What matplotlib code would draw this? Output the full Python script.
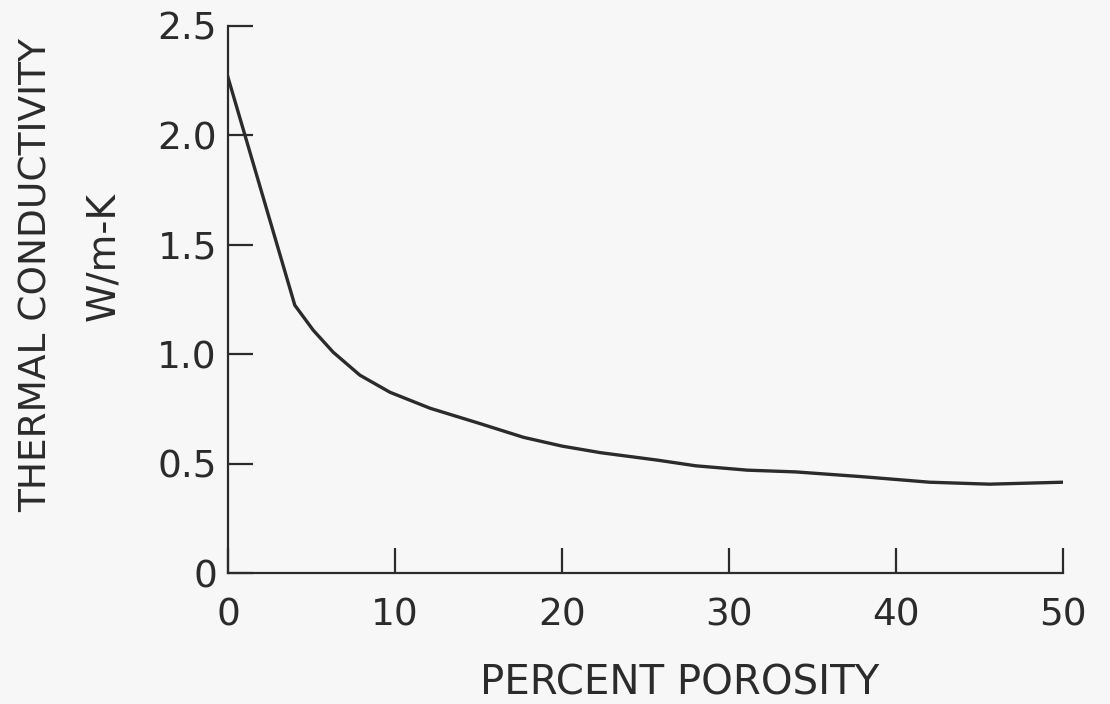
import matplotlib
matplotlib.use("Agg")
import matplotlib.pyplot as plt

# thermal conductivity vs porosity
porosity = [0, 4.0, 5.1, 6.3, 7.9, 9.7, 12.1, 15, 17.7, 20, 22.3, 25.7, 28,
            31.1, 34, 38, 42, 45.6, 50]
conductivity = [2.265, 1.224, 1.11, 1.009, 0.904, 0.826, 0.753, 0.685, 0.62,
                0.58, 0.55, 0.516, 0.49, 0.47, 0.462, 0.44, 0.415, 0.406,
                0.415]

xticks = [0, 10, 20, 30, 40, 50]
yticks = [0, 0.5, 1.0, 1.5, 2.0, 2.5]
ytick_labels = ['0', '0.5', '1.0', '1.5', '2.0', '2.5']

ink = '#2b2b2b'
bg = '#f7f7f7'
plt.rcParams['font.family'] = 'DejaVu Sans'

fig = plt.figure(figsize=(11.1, 7.04), dpi=100, facecolor=bg)
ax = fig.add_axes([228/1110, 1 - 573/704, (1063 - 228)/1110, (573 - 26)/704])
ax.set_facecolor(bg)

ax.plot(porosity, conductivity, color=ink, lw=2.4, solid_joinstyle='round')

ax.set_xlim(0, 50)
ax.set_ylim(0, 2.5)
ax.set_xticks(xticks)
ax.set_yticks(yticks)
ax.set_yticklabels(ytick_labels)

for side in ['top', 'right']:
    ax.spines[side].set_visible(False)
for side in ['left', 'bottom']:
    ax.spines[side].set_color(ink)
    ax.spines[side].set_linewidth(1.6)

ax.tick_params(axis='both', direction='in', length=18, width=1.6,
               color=ink, labelcolor=ink, labelsize=27)
ax.tick_params(axis='x', pad=18)
ax.tick_params(axis='y', pad=8)

fig.text(0.612, 0.014, 'PERCENT POROSITY', ha='center', va='baseline',
         fontsize=29, color=ink)
fig.text(0.033, 0.61, 'THERMAL CONDUCTIVITY', ha='center', va='center',
         rotation=90, fontsize=27, color=ink)
fig.text(0.093, 0.635, 'W/m-K', ha='center', va='center',
         rotation=90, fontsize=28, color=ink)

fig.savefig('out.png', dpi=100, facecolor=bg)
